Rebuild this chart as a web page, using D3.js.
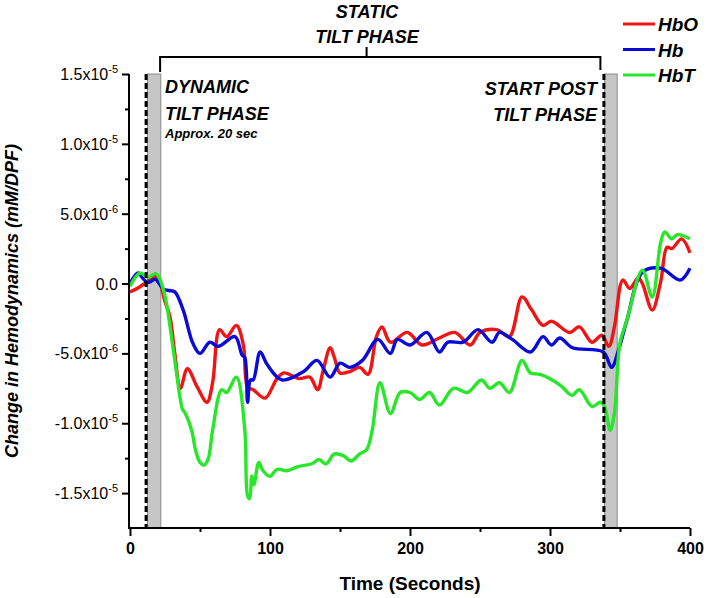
<!DOCTYPE html>
<html><head><meta charset="utf-8">
<script src="https://cdn.jsdelivr.net/npm/d3@7"></script>
<style>body{margin:0;background:#fff}svg{display:block;font-family:"Liberation Sans",Arial,sans-serif}</style>
</head><body><svg id="c" width="708" height="598"></svg>
<script>
const UNIT = 1e-6;
// HbO (red)
const hboT = [0,6,12,19,25,28.6,32,36,41,48,55,59,64,69,76,81,84,88,96.5,105,110,121,128.5,134,138,143,146,150,157,164,170,176,180,186,198,208.6,221,232,243,250,262,271,280,287,295,301,314,321,330,337,342,346,352,357,363,366,373,379,383.6,387,394,400];
const hboV = [-0.6,-0.3,0.1,0.5,-1.3,-2.4,-5.0,-7.5,-6.1,-7.4,-8.5,-7.1,-3.3,-3.8,-3.0,-4.4,-7.4,-7.6,-8.2,-6.8,-6.4,-6.8,-6.7,-7.6,-6.2,-4.6,-5.3,-6.4,-6.3,-6.0,-6.5,-3.8,-3.1,-4.2,-3.5,-4.4,-3.9,-3.5,-4.4,-3.5,-3.3,-3.8,-0.96,-1.9,-3.0,-2.7,-3.5,-3.1,-4.2,-3.7,-4.5,-3.1,0.25,-0.35,0.4,0.0,-1.9,0.1,2.6,2.5,3.2,2.2];
// Hb (blue)
const hbT = [0,5.7,9,12,14,18,24,28,32,38,45,50,57,63,75,80,82,84,86,88,93,98,108.5,124,133.5,143,150,157,166,177,186,191,200,212,221,227,238,248.6,258.6,264,273,286,295,301,307,316,338,344,349,355,366,379,393,400];
const hbV = [0,0.75,0.4,0.1,0.1,0.3,-0.4,-0.5,-0.6,-1.9,-4.3,-5.0,-4.2,-4.5,-3.8,-5.1,-5.3,-8.5,-6.9,-6.9,-4.9,-5.8,-6.9,-6.3,-5.5,-6.7,-5.7,-6.0,-5.5,-4.0,-5.0,-4.0,-4.4,-3.5,-4.9,-4.2,-4.2,-3.3,-4.2,-3.5,-4.0,-4.9,-3.8,-4.4,-3.9,-4.6,-4.9,-6.0,-4.75,-2.6,0.8,1.1,0.25,1.1];
// HbT (green)
const hbtT = [0,7,13,18.6,24,31,33,37.5,39,44,47,50,53,56,59,65.5,69,76,82,84,85.5,87,88.5,92,95,100,105,112,120,130,135,140,146,152,158,164,169,173,178.6,186,193,200,207,214,221,231,241,251,257,264,271,280,286,293,307,315.7,321,330,336,339,343,346,350,355,366,373,379,382,387,391,400];
const hbtV = [-0.2,0.75,0.45,0.7,-0.5,-4.8,-6.2,-9.0,-9.2,-10.5,-12.0,-12.8,-13.0,-12.5,-10.5,-7.6,-7.8,-6.7,-10.5,-15.2,-15.4,-13.8,-14.4,-12.8,-13.4,-13.8,-13.3,-13.4,-13.1,-12.9,-12.6,-12.9,-12.2,-12.3,-12.7,-12.2,-11.9,-10.5,-7.1,-9.3,-7.8,-7.8,-8.3,-7.8,-8.7,-7.5,-7.8,-6.9,-7.5,-7.1,-7.8,-5.5,-6.4,-6.5,-7.25,-8.0,-7.6,-8.8,-8.5,-8.8,-10.5,-9.3,-4.25,-2.6,0.96,-0.96,2.9,3.7,3.2,3.5,3.2];

const seriesNames = ["HbO","Hb","HbT"];
const seriesColors = ["#f01414","#0a0ad8","#28e628"];
const xTicks = [0,100,200,300,400];
const xMinor = [50,150,250,350];
const yTicks = [15e-6,10e-6,5e-6,0,-5e-6,-10e-6,-15e-6];
const yTickMant = ["1.5","1.0","5.0","0.0","-5.0","-1.0","-1.5"];
const yTickExp = ["-5","-5","-6","","-6","-5","-5"];
const yMinor = [12.5e-6,7.5e-6,2.5e-6,-2.5e-6,-7.5e-6,-12.5e-6];
const phaseMarks = [11.5, 338.5];        // dashed lines
const phaseBoxes = [[12.5,22],[339,348]]; // grey bands

const svg = d3.select("#c");
const x = d3.scaleLinear().domain([0,400]).range([130,690]);
const y = d3.scaleLinear().domain([-17.5e-6,15e-6]).range([528,74]);

// grey bands
svg.selectAll("rect.band").data(phaseBoxes).join("rect")
  .attr("x",d=>x(d[0])).attr("width",d=>x(d[1])-x(d[0]))
  .attr("y",y(15e-6)).attr("height",y(-17.5e-6)-y(15e-6))
  .attr("fill","#c6c6c6").attr("stroke","#8a8a8a").attr("stroke-width",1);

// lines
const mk = (T,V)=>T.map((t,i)=>[t,V[i]*UNIT]);
const data = [mk(hboT,hboV), mk(hbT,hbV), mk(hbtT,hbtV)];
const line = d3.line().x(d=>x(d[0])).y(d=>y(d[1])).curve(d3.curveCatmullRom.alpha(0.5));
data.forEach((d,i)=>{
  svg.append("path").attr("d",line(d)).attr("fill","none")
    .attr("stroke",seriesColors[i]).attr("stroke-width",3.4).attr("stroke-linejoin","round");
});

// dashed lines
svg.selectAll("line.mark").data(phaseMarks).join("line")
  .attr("x1",d=>x(d)).attr("x2",d=>x(d)).attr("y1",y(15e-6)).attr("y2",528)
  .attr("stroke","#000").attr("stroke-width",3).attr("stroke-dasharray","6,3");

// axes
const xAxis = d3.axisBottom(x).tickValues(xTicks).tickSize(8).tickFormat(d3.format("d"));
const gx = svg.append("g").attr("transform","translate(0,528)").call(xAxis);
gx.select(".domain").attr("stroke-width",2).attr("d","M129,0H690");
gx.selectAll(".tick line").attr("stroke-width",2);
gx.selectAll(".tick text").attr("font-size",16).attr("font-weight","bold").attr("font-family","Liberation Sans, Arial").attr("dy","0.95em");
const gxm = svg.append("g").attr("transform","translate(0,528)")
  .call(d3.axisBottom(x).tickValues(xMinor).tickSize(4).tickFormat(""));
gxm.select(".domain").remove();
gxm.selectAll(".tick line").attr("stroke-width",2);

const yAxis = d3.axisLeft(y).tickValues(yTicks).tickSize(7).tickFormat("");
const gy = svg.append("g").attr("transform","translate(129,0)").call(yAxis);
gy.select(".domain").attr("stroke-width",2).attr("d","M0,74V529");
gy.selectAll(".tick line").attr("stroke-width",2);
const gym = svg.append("g").attr("transform","translate(129,0)")
  .call(d3.axisLeft(y).tickValues(yMinor).tickSize(4).tickFormat(""));
gym.select(".domain").remove();
gym.selectAll(".tick line").attr("stroke-width",2);

// y tick labels with superscript
yTicks.forEach((v,i)=>{
  const t = svg.append("text").attr("x",118).attr("y",y(v)+6)
    .attr("text-anchor","end").attr("font-size",16).attr("fill","#000");
  t.append("tspan").text(yTickMant[i] + (yTickExp[i] ? "x10" : ""));
  if (yTickExp[i]) t.append("tspan").attr("font-size",11).attr("dy",-7).text(yTickExp[i]);
});

// axis titles
svg.append("text").attr("x",410).attr("y",590).attr("text-anchor","middle")
  .attr("font-size",19).attr("font-weight","bold").text("Time (Seconds)");
svg.append("text").attr("transform","translate(18,301) rotate(-90)").attr("text-anchor","middle")
  .attr("font-size",18).attr("font-weight","bold").attr("font-style","italic")
  .text("Change in Hemodynamics (mM/DPF)");

// bracket
svg.append("path").attr("d",`M${x(21.5)},72V57H${x(336)}V70M${x(169)},57V47`)
  .attr("fill","none").attr("stroke","#000").attr("stroke-width",2);

const ann = (tx,ty,txt,size,anchor)=>svg.append("text").attr("x",tx).attr("y",ty)
  .attr("text-anchor",anchor||"start").attr("font-size",size).attr("font-weight","bold")
  .attr("font-style","italic").text(txt);
ann(367,18,"STATIC",18,"middle");
ann(367,43,"TILT PHASE",18,"middle");
ann(165,93,"DYNAMIC",18);
ann(165,120,"TILT PHASE",18);
ann(165,138,"Approx. 20 sec",13);
ann(597,95,"START POST",18,"end");
ann(597,121,"TILT PHASE",18,"end");

// legend
seriesNames.forEach((n,i)=>{
  const ly = 24 + i*25.5;
  svg.append("line").attr("x1",623).attr("x2",655).attr("y1",ly).attr("y2",ly)
    .attr("stroke",seriesColors[i]).attr("stroke-width",3);
  ann(658,ly+7,n,19);
});
</script></body></html>
